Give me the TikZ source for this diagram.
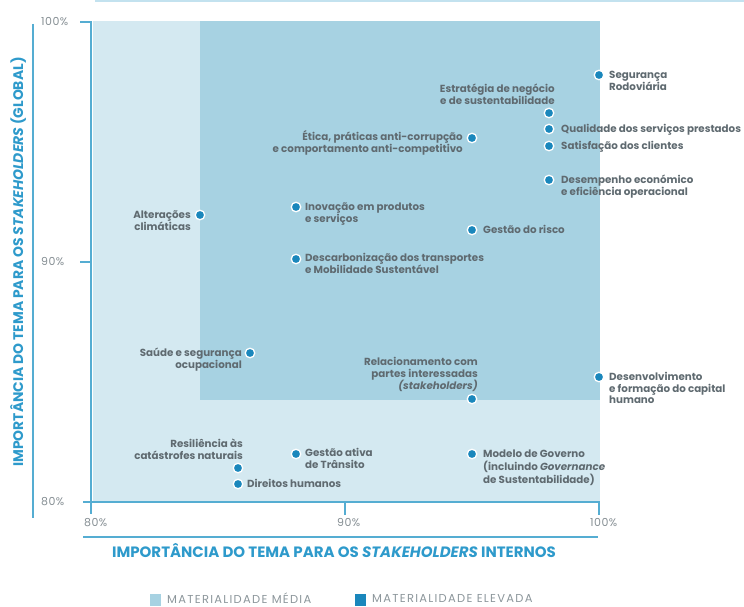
\documentclass[tikz,border=0pt]{standalone}
\usepackage{fontspec}
\setmainfont{Poppins}
\definecolor{lightm}{HTML}{D4E9F1}
\definecolor{darkm}{HTML}{A7D2E2}
\definecolor{axisc}{HTML}{55ADD2}
\definecolor{dotc}{HTML}{1A87BC}
\definecolor{txtc}{HTML}{5F6A70}
\definecolor{tickc}{HTML}{858E93}
\definecolor{ttlc}{HTML}{2E9ACB}
\definecolor{legc}{HTML}{8C969B}
\newcommand\labL[1]{\begin{tabular}[t]{@{}l@{}}#1\end{tabular}}
\newcommand\labR[1]{\begin{tabular}[t]{@{}r@{}}#1\end{tabular}}
\begin{document}
\begin{tikzpicture}[x=1pt,y=-1pt,
  axisline/.style={draw=axisc,line width=2pt},
  pdot/.style={circle,fill=dotc,draw=white,line width=1.3pt,minimum size=9.5pt,inner sep=0pt},
  lbl/.style={inner sep=0pt,text=txtc,font=\fontsize{10.3}{11.2}\selectfont\bfseries},
  lblr/.style={lbl,anchor=base west},
  lbll/.style={lbl,anchor=base east},
  ticklbl/.style={inner sep=0pt,text=tickc,font=\fontsize{11}{12}\selectfont\addfontfeature{LetterSpace=4},anchor=west},
  ttl/.style={inner sep=0pt,text=ttlc,font=\fontsize{15}{17}\selectfont\bfseries},
  legtxt/.style={inner sep=0pt,text=legc,font=\fontsize{11.5}{12}\selectfont\addfontfeature{LetterSpace=11},anchor=west}]
\useasboundingbox (0,0) rectangle (744,607);
% top faint line
\draw[draw=axisc!35,line width=2pt] (95,1) -- (744,1);
% zones
\fill[lightm] (93,21) rectangle (600,502);
\fill[darkm] (200,21) rectangle (600,400);
% axes
\draw[axisline] (80,22) -- (91,22) -- (91,514);
\draw[axisline] (80,262) -- (91,262);
\draw[axisline] (83,502) -- (599,502) -- (599,515);
\draw[axisline] (345,502) -- (345,515);
% title bars
\draw[axisline] (33,24) -- (33,518);
\draw[axisline] (83,537) -- (598,537);
% tick labels
\node[ticklbl] (y100) at (41,22) {100\%};
\node[ticklbl] (y90) at (41,262) {90\%};
\node[ticklbl] (y80) at (41,502) {80\%};
\node[ticklbl] (x80) at (84,523) {80\%};
\node[ticklbl] (x90) at (337,523) {90\%};
\node[ticklbl] (x100) at (590,523) {100\%};
% axis titles
\node[ttl] (xt) at (334,551) {IMPORTÂNCIA DO TEMA PARA OS \textit{STAKEHOLDERS} INTERNOS};
\node[ttl,rotate=90,font=\fontsize{13.9}{16}\selectfont\bfseries] (yt) at (18,262) {IMPORTÂNCIA DO TEMA PARA OS \textit{STAKEHOLDERS} (GLOBAL)};
% legend
\fill[darkm] (150,594) rectangle (161,606);
\node[legtxt] (l1) at (167,598) {MATERIALIDADE MÉDIA};
\fill[dotc] (355,594) rectangle (366,606);
\node[legtxt] (l2) at (372,598) {MATERIALIDADE ELEVADA};
% points
\node[pdot] (seg) at (599,75) {};
\node[lblr] (segl) at (609,78.5) {\labL{Segurança\\Rodoviária}};
\node[pdot] (est) at (549,113) {};
\node[lbll] (estl) at (555,92.5) {\labR{Estratégia de negócio\\e de sustentabilidade}};
\node[pdot] (qual) at (549,129) {};
\node[lblr] (quall) at (561,132.5) {Qualidade dos serviços prestados};
\node[pdot] (sat) at (549,146) {};
\node[lblr] (satl) at (561,149.5) {Satisfação dos clientes};
\node[pdot] (des) at (549,180) {};
\node[lblr] (desl) at (561,183.5) {\labL{Desempenho económico\\e eficiência operacional}};
\node[pdot] (eti) at (472,138) {};
\node[lbll] (etil) at (463,140.5) {\labR{Ética, práticas anti-corrupção\\e comportamento anti-competitivo}};
\node[pdot] (inov) at (296,207) {};
\node[lblr] (inovl) at (305,210.5) {\labL{Inovação em produtos\\e serviços}};
\node[pdot] (alt) at (200,215) {};
\node[lbll] (altl) at (191,218.5) {\labR{Alterações\\climáticas}};
\node[pdot] (ris) at (472,230) {};
\node[lblr] (risl) at (483,233.5) {Gestão do risco};
\node[pdot] (desc) at (296,259) {};
\node[lblr] (descl) at (305,261.5) {\labL{Descarbonização dos transportes\\e Mobilidade Sustentável}};
\node[pdot] (sau) at (250,353) {};
\node[lbll] (saul) at (242,356.5) {\labR{Saúde e segurança\\ocupacional}};
\node[pdot] (rel) at (472,399) {};
\node[lbll] (rell) at (478,365.5) {\labR{Relacionamento com\\partes interessadas\\\textit{(stakeholders)}}};
\node[pdot] (dev) at (599,377) {};
\node[lblr] (devl) at (609,380.5) {\labL{Desenvolvimento\\e formação do capital\\humano}};
\node[pdot] (res) at (238,468) {};
\node[lbll] (resl) at (243,447.5) {\labR{Resiliência às\\catástrofes naturais}};
\node[pdot] (dir) at (238,484) {};
\node[lblr] (dirl) at (247,487.5) {Direitos humanos};
\node[pdot] (ges) at (296,454) {};
\node[lblr] (gesl) at (305,456.5) {\labL{Gestão ativa\\de Trânsito}};
\node[pdot] (mod) at (472,454) {};
\node[lblr] (modl) at (483,457.5) {\labL{Modelo de Governo\\(incluindo \textit{Governance}\\de Sustentabilidade)}};
\end{tikzpicture}
\end{document}
